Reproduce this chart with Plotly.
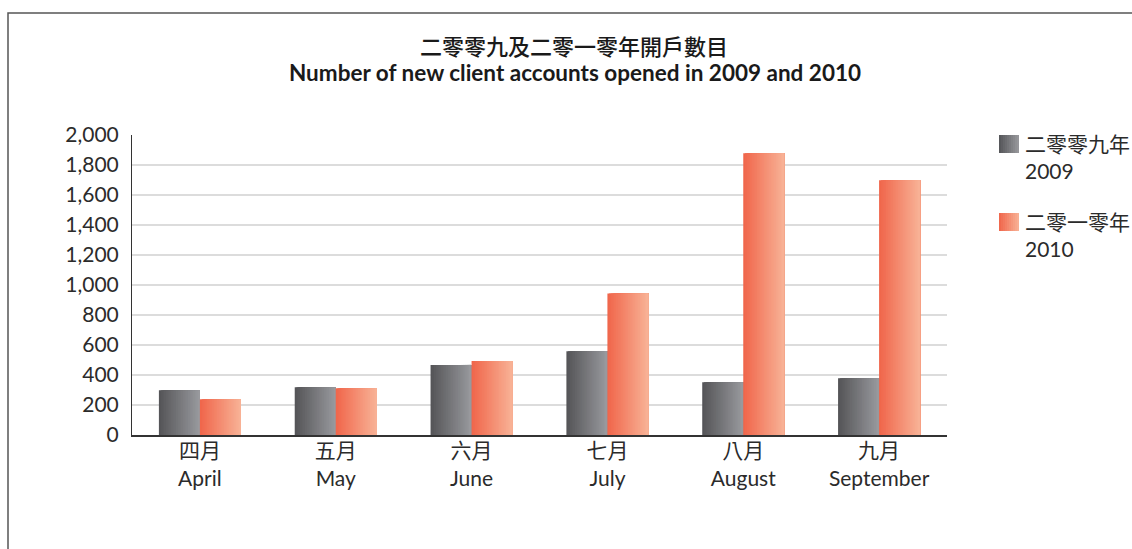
import plotly.graph_objects as go

# categorie (mese in cinese + inglese)
months_zh = ["四月", "五月", "六月", "七月", "八月", "九月"]
months_en = ["April", "May", "June", "July", "August", "September"]

# numero di nuovi conti aperti
accounts_2009 = [298, 318, 467, 558, 351, 378]
accounts_2010 = [238, 311, 493, 944, 1878, 1698]

series_names = ["二零零九年<br>2009", "二零一零年<br>2010"]

# colori del gradiente orizzontale (sinistra -> destra)
GRAD_2009 = ((0x54, 0x54, 0x57), (0x99, 0x9a, 0x9e))
GRAD_2010 = ((0xf0, 0x65, 0x4a), (0xf8, 0xb3, 0x97))

FONT = "Lato, 'Noto Sans CJK TC', sans-serif"
TEXT_COLOR = "#2b2b2b"

N_SLICES = 24
BAR_W = 0.302

# margini dell'area del grafico in pixel
W, H = 1132, 549
ML, MR, MT, MB = 132, 185, 135, 114
PW, PH = W - ML - MR, H - MT - MB


def mix(c0, c1, t):
    r, g, b = (round(a + (b_ - a) * t) for a, b_ in zip(c0, c1))
    return f"rgb({r},{g},{b})"


def px_x(p):
    return (p - ML) / PW


def px_y(p):
    return (H - MB - p) / PH


categories = [f"{zh}<br>{en}" for zh, en in zip(months_zh, months_en)]

fig = go.Figure()

# gradiente: ogni fetta parte piu' a destra e arriva fino al bordo della barra,
# quella successiva copre la precedente -> niente fessure tra le fette
for values, grad, base in [(accounts_2009, GRAD_2009, -BAR_W), (accounts_2010, GRAD_2010, 0.0)]:
    step = BAR_W / N_SLICES
    for k in range(N_SLICES):
        fig.add_trace(go.Bar(
            x=categories,
            y=values,
            offset=base + k * step,
            width=BAR_W - k * step,
            marker=dict(color=mix(grad[0], grad[1], (k + 0.5) / N_SLICES), line=dict(width=0)),
            showlegend=False,
            hoverinfo="skip",
        ))

shapes = []
annotations = []

# legenda personalizzata con riquadro a gradiente
for name, grad, top in [(series_names[0], GRAD_2009, 135), (series_names[1], GRAD_2010, 213)]:
    x0, x1 = 999, 1019
    n = 10
    for k in range(n):
        shapes.append(dict(
            type="rect", xref="paper", yref="paper",
            x0=px_x(x0 + (x1 - x0) * k / n), x1=px_x(x1),
            y0=px_y(top + 18), y1=px_y(top),
            fillcolor=mix(grad[0], grad[1], (k + 0.5) / n), line=dict(width=0), layer="above",
        ))
    annotations.append(dict(
        xref="paper", yref="paper", x=px_x(1023), y=px_y(top - 6),
        xanchor="left", yanchor="top", align="left", showarrow=False,
        text=name, font=dict(family=FONT, size=21, color=TEXT_COLOR),
    ))

# titolo su due righe
annotations.append(dict(
    xref="paper", yref="paper", x=px_x(574), y=px_y(45), xanchor="center", yanchor="middle",
    showarrow=False, text="二零零九及二零一零年開戶數目",
    font=dict(family="'Noto Sans CJK TC', sans-serif", size=22, weight=500, color="#1a1a1a"),
))
annotations.append(dict(
    xref="paper", yref="paper", x=px_x(575), y=px_y(73), xanchor="center", yanchor="middle",
    showarrow=False, text="<b>Number of new client accounts opened in 2009 and 2010</b>",
    font=dict(family=FONT, size=22.5, color="#1a1a1a"),
))

# cornice esterna (aperta a destra e in basso)
shapes.append(dict(
    type="rect", xref="paper", yref="paper",
    x0=px_x(8), x1=px_x(1160), y0=px_y(580), y1=px_y(13),
    line=dict(color="#555555", width=1.5), fillcolor="rgba(0,0,0,0)", layer="below",
))

fig.update_layout(
    width=W,
    height=H,
    margin=dict(l=ML, r=MR, t=MT, b=MB),
    barmode="overlay",
    plot_bgcolor="white",
    paper_bgcolor="white",
    font=dict(family=FONT, size=21, color=TEXT_COLOR),
    showlegend=False,
    shapes=shapes,
    annotations=annotations,
    xaxis=dict(
        type="category",
        showgrid=False,
        showline=True,
        linecolor="#333333",
        linewidth=2,
        ticks="",
        ticklabelstandoff=-4,
        tickfont=dict(size=21, color=TEXT_COLOR),
    ),
    yaxis=dict(
        range=[0, 2000],
        dtick=200,
        tickformat=",",
        showgrid=True,
        gridcolor="#dcdcdc",
        gridwidth=1.5,
        zeroline=False,
        showline=True,
        linecolor="#333333",
        linewidth=1,
        ticks="",
        ticklabelstandoff=8,
        tickfont=dict(size=21, color=TEXT_COLOR),
    ),
)

# la pagina html ha un margine di 8px di default: lo togliamo
fig.write_html(
    "out.html",
    config={"displayModeBar": False},
    post_script="document.body.style.margin='0';",
)
